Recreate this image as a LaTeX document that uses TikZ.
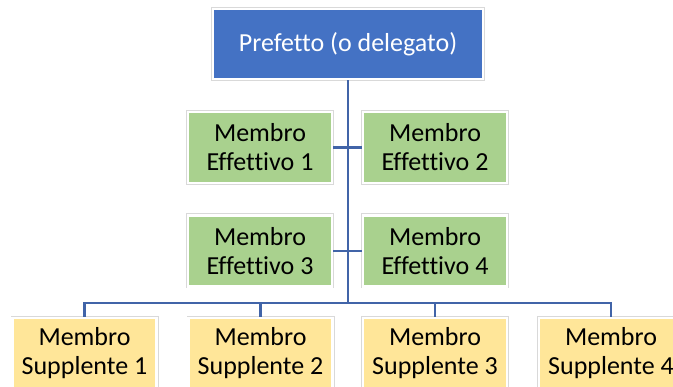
\documentclass[tikz,border=0pt]{standalone}
\usepackage{fontspec}
\setmainfont[Ligatures={NoCommon}]{Carlito}
\usepackage{tikz}
\usetikzlibrary{positioning}
\usepackage{xcolor}
\definecolor{capo}{RGB}{68,114,196}
\definecolor{effettivo}{RGB}{169,209,142}
\definecolor{supplente}{RGB}{255,230,153}
\definecolor{linea}{RGB}{65,100,168}

\begin{document}
\begin{tikzpicture}[x=1pt,y=-1pt,
    every node/.style={align=center,font=\fontsize{26}{29}\selectfont,inner sep=0pt,
        draw=white,line width=2.4pt,preaction={draw=black!15,line width=4pt}},
    membro/.style={minimum width=144pt,minimum height=71pt},
    link/.style={draw=linea,line width=2.8pt}]
    \useasboundingbox (0,0) rectangle (673,387);

    \node[fill=capo,text=white,minimum width=270pt,minimum height=70pt] (pref) at (348,44) {Prefetto (o delegato)};

    \node[membro,fill=effettivo] (e1) at (260,147.5) {Membro\\Effettivo 1};
    \node[membro,fill=effettivo] (e2) at (435,147.5) {Membro\\Effettivo 2};
    \node[membro,fill=effettivo] (e3) at (260,251) {Membro\\Effettivo 3};
    \node[membro,fill=effettivo] (e4) at (435,251) {Membro\\Effettivo 4};

    \node[membro,fill=supplente] (s1) at (84.5,353.5) {Membro\\Supplente 1};
    \node[membro,fill=supplente] (s2) at (260.5,353.5) {Membro\\Supplente 2};
    \node[membro,fill=supplente] (s3) at (435,353.5) {Membro\\Supplente 3};
    \node[membro,fill=supplente] (s4) at (611,353.5) {Membro\\Supplente 4};

    \coordinate (bus) at (348,303);
    \draw[link] (pref.south) -- (bus);
    \draw[link] (e1.east) -- (e2.west);
    \draw[link] (e3.east) -- (e4.west);
    \draw[link] (s1.north) |- (bus) -| (s4.north);
    \draw[link] (s2.north) |- (bus) -| (s3.north);
\end{tikzpicture}
\end{document}
